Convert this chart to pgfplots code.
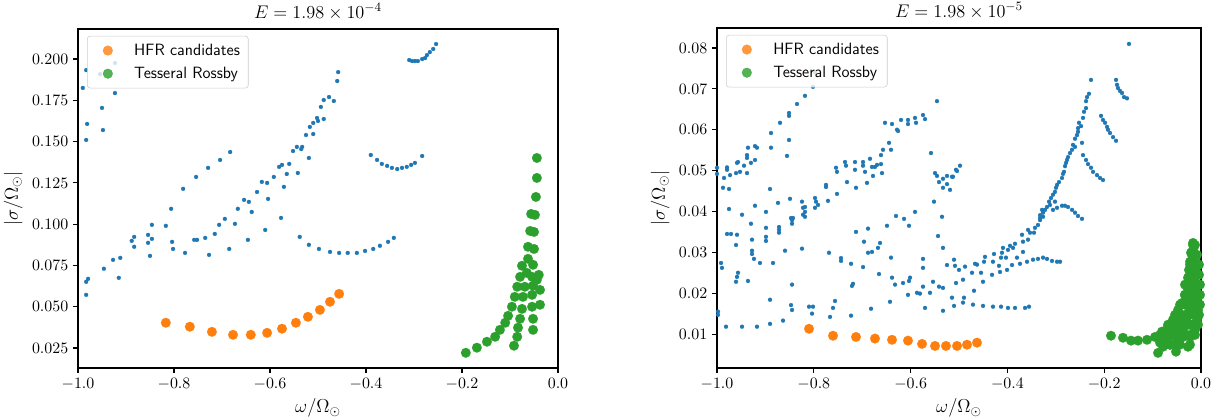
\RequirePackage{fix-cm}
\documentclass[border=0pt]{standalone}
\usepackage{pgfplots}
\pgfplotsset{compat=1.18}
\definecolor{mplblue}{HTML}{1F77B4}
\definecolor{mplorange}{HTML}{FF7F0E}
\definecolor{mplgreen}{HTML}{2CA02C}
\newcommand{\legfont}{\sffamily\fontsize{11.8}{14}\selectfont}
\pgfplotsset{
  panel/.style={
    scale only axis,
    xmin=-1, xmax=0,
    xtick={-1,-0.8,-0.6,-0.4,-0.2,0},
    xticklabel style={/pgf/number format/.cd,fixed,fixed zerofill,precision=1},
    scaled ticks=false,
    tick pos=left, tick align=outside,
    major tick length=3.5bp,
    every tick/.style={black,line width=0.8bp},
    axis line style={line width=0.8bp},
    tick label style={font=\fontsize{11.5}{13}\selectfont},
    label style={font=\fontsize{13.5}{16}\selectfont},
    xlabel={$\omega/\Omega_\odot$},
    ylabel={$|\sigma/\Omega_\odot|$},
    title style={font=\fontsize{13.2}{16}\selectfont, yshift=-3bp},
    legend style={at={(0,1)},anchor=north west,xshift=6.5bp,yshift=-5bp,
      draw=black!20,rounded corners=2bp,fill=white,fill opacity=0.8,text opacity=1,
      font=\legfont, nodes={font=\legfont, inner sep=2bp},
      inner xsep=4bp,inner ysep=3.5bp,row sep=3bp,column sep=0bp},
    legend cell align=left,
    legend image code/.code={\path (0bp,0bp) (27.4bp,0bp);\draw[#1] plot coordinates {(10.6bp,0bp)};},
  },
  blu/.style={only marks,mark=*,mark size=1.45bp,color=mplblue,mark options={line width=0.1pt}},
  ora/.style={only marks,mark=*,mark size=3.5bp,color=mplorange,mark options={line width=0.1pt}},
  gre/.style={only marks,mark=*,mark size=3.5bp,color=mplgreen,mark options={line width=0.1pt}},
}
\begin{document}
\begin{tikzpicture}
\path[use as bounding box] (0,0) rectangle (878.4bp,302.4bp);
% ---------------- left panel ----------------
\begin{axis}[panel, at={(56.16bp,37.44bp)}, anchor=south west,
  width=345.6bp, height=244.08bp,
  ymin=0.0129, ymax=0.2182,
  ytick={0.025,0.05,0.075,0.1,0.125,0.15,0.175,0.2},
  yticklabel style={/pgf/number format/.cd,fixed,fixed zerofill,precision=3},
  title={$E = 1.98\times 10^{-4}$}]
\addplot[blu, forget plot] table {
-0.983 0.1933
-0.923 0.1976
-0.954 0.1909
-0.990 0.1825
-0.923 0.1794
-0.950 0.1704
-0.981 0.1607
-0.948 0.1570
-0.983 0.1510
-0.683 0.1437
-0.704 0.1389
-0.729 0.1341
-0.754 0.1286
-0.781 0.1214
-0.806 0.1093
-0.694 0.1032
-0.458 0.1921
-0.460 0.1867
-0.477 0.1770
-0.488 0.1752
-0.467 0.1746
-0.494 0.1710
-0.488 0.1637
-0.502 0.1643
-0.500 0.1625
-0.510 0.1613
-0.517 0.1589
-0.510 0.1546
-0.525 0.1540
-0.533 0.1468
-0.544 0.1468
-0.535 0.1455
-0.552 0.1443
-0.519 0.1401
-0.560 0.1365
-0.575 0.1359
-0.581 0.1347
-0.565 0.1304
-0.542 0.1310
-0.592 0.1286
-0.571 0.1226
-0.617 0.1256
-0.606 0.1250
-0.627 0.1195
-0.654 0.1147
-0.644 0.1135
-0.604 0.1153
-0.667 0.1093
-0.638 0.1074
-0.577 0.1038
-0.846 0.0996
-0.817 0.0990
-0.854 0.0935
-0.883 0.0923
-0.888 0.0899
-0.854 0.0887
-0.846 0.0911
-0.883 0.0863
-0.804 0.0893
-0.802 0.0850
-0.850 0.0808
-0.777 0.0826
-0.758 0.0905
-0.752 0.0905
-0.735 0.0917
-0.727 0.0814
-0.715 0.0941
-0.706 0.0996
-0.685 0.0850
-0.673 0.1002
-0.646 0.0905
-0.610 0.0965
-0.927 0.0784
-0.912 0.0796
-0.946 0.0730
-0.915 0.0675
-0.979 0.0669
-0.983 0.0651
-0.983 0.0572
-0.538 0.0923
-0.519 0.0875
-0.498 0.0850
-0.475 0.0832
-0.456 0.0826
-0.438 0.0826
-0.419 0.0826
-0.402 0.0838
-0.385 0.0850
-0.371 0.0869
-0.354 0.0893
-0.342 0.0917
-0.390 0.1419
-0.377 0.1389
-0.367 0.1365
-0.356 0.1353
-0.346 0.1341
-0.335 0.1334
-0.325 0.1341
-0.315 0.1347
-0.306 0.1359
-0.298 0.1371
-0.283 0.1413
-0.310 0.1994
-0.304 0.1988
-0.298 0.1988
-0.292 0.1988
-0.283 0.2000
-0.277 0.2006
-0.273 0.2024
-0.267 0.2042
-0.260 0.2061
-0.254 0.2091
};
\addplot[ora] table {
-0.817 0.0403
-0.767 0.0379
-0.721 0.0348
-0.677 0.0330
-0.640 0.0330
-0.606 0.0342
-0.575 0.0367
-0.546 0.0403
-0.521 0.0439
-0.496 0.0481
-0.475 0.0530
-0.456 0.0578
};
\addlegendentry{HFR candidates}
\addplot[gre] table {
-0.044 0.1401
-0.044 0.1280
-0.046 0.1165
-0.056 0.1062
-0.048 0.1056
-0.058 0.0959
-0.050 0.0953
-0.0625 0.0863
-0.050 0.0850
-0.0625 0.0790
-0.075 0.0748
-0.052 0.0754
-0.065 0.0705
-0.079 0.0681
-0.054 0.0681
-0.040 0.0693
-0.044 0.0663
-0.085 0.0621
-0.069 0.0621
-0.052 0.0627
-0.0375 0.0602
-0.054 0.0572
-0.090 0.0560
-0.073 0.0560
-0.096 0.0500
-0.075 0.0487
-0.054 0.0500
-0.0375 0.0512
-0.104 0.0445
-0.079 0.0427
-0.052 0.0427
-0.110 0.0403
-0.0833 0.0373
-0.052 0.0360
-0.121 0.0360
-0.131 0.0318
-0.085 0.0318
-0.148 0.0288
-0.0917 0.0264
-0.169 0.0252
-0.192 0.0221
};
\addlegendentry{Tesseral Rossby}
\end{axis}
% ---------------- right panel ----------------
\begin{axis}[panel, at={(516.24bp,37.44bp)}, anchor=south west,
  width=348.48bp, height=244.8bp,
  ymin=0.0017, ymax=0.0849,
  ytick={0.01,0.02,0.03,0.04,0.05,0.06,0.07,0.08},
  yticklabel style={/pgf/number format/.cd,fixed,fixed zerofill,precision=2},
  title={$E = 1.98\times 10^{-5}$}]
\addplot[blu, forget plot] table {
-1.0000 0.0507
-1.0000 0.0492
-0.9855 0.0482
-0.9876 0.0458
-0.9793 0.0508
-0.9793 0.0502
-0.9731 0.0489
-0.9752 0.0455
-0.9607 0.0494
-0.9587 0.0519
-0.9566 0.0521
-0.9525 0.0497
-0.9442 0.0512
-0.9380 0.0494
-0.9380 0.0531
-0.9380 0.0538
-0.9360 0.0556
-0.9215 0.0526
-0.9215 0.0560
-0.9174 0.0556
-0.9298 0.0519
-0.8884 0.0592
-0.8884 0.0556
-0.8698 0.0617
-0.8512 0.0641
-0.8512 0.0634
-0.8347 0.0663
-0.8182 0.0683
-0.8017 0.0705
-0.7975 0.0741
-0.8512 0.0575
-0.8554 0.0536
-0.8905 0.0455
-0.9215 0.0414
-0.9483 0.0392
-0.9752 0.0406
-0.8988 0.0399
-0.8740 0.0421
-0.8492 0.0431
-0.8430 0.0384
-0.8244 0.0424
-0.8223 0.0409
-0.8182 0.0399
-0.8223 0.0392
-0.8182 0.0387
-0.7975 0.0433
-0.7955 0.0424
-0.7913 0.0416
-0.7975 0.0409
-0.7748 0.0465
-0.7748 0.0460
-0.7707 0.0426
-0.7521 0.0443
-0.7541 0.0507
-0.7521 0.0497
-0.7355 0.0521
-0.7335 0.0512
-0.7314 0.0472
-0.7149 0.0521
-0.7149 0.0502
-0.7128 0.0458
-0.6983 0.0521
-0.6983 0.0512
-0.6942 0.0497
-0.6901 0.0470
-0.6839 0.0529
-0.6798 0.0509
-0.6777 0.0487
-0.6736 0.0509
-0.6694 0.0514
-0.6612 0.0538
-0.6612 0.0516
-0.6591 0.0494
-0.6570 0.0551
-0.6529 0.0617
-0.6446 0.0568
-0.6405 0.0551
-0.6384 0.0614
-0.6281 0.0600
-0.6260 0.0597
-0.6198 0.0624
-0.6054 0.0624
-0.6054 0.0614
-0.5909 0.0629
-0.5888 0.0617
-0.5744 0.0636
-0.5702 0.0626
-0.5579 0.0543
-0.5496 0.0494
-0.5517 0.0424
-0.5455 0.0487
-0.5413 0.0472
-0.5331 0.0480
-0.5248 0.0487
-0.5186 0.0453
-0.5124 0.0485
-0.5062 0.0502
-0.4979 0.0512
-0.5455 0.0670
-0.5351 0.0387
-0.5041 0.0499
-0.5145 0.0485
-0.5248 0.0467
-0.5331 0.0458
-0.1488 0.0810
-0.2273 0.0722
-0.1756 0.0722
-0.1736 0.0710
-0.1715 0.0702
-0.1674 0.0695
-0.1632 0.0690
-0.1591 0.0680
-0.1529 0.0677
-0.2066 0.0634
-0.2025 0.0624
-0.1983 0.0617
-0.1942 0.0607
-0.1921 0.0600
-0.1880 0.0592
-0.1818 0.0582
-0.1756 0.0573
-0.2438 0.0538
-0.2376 0.0526
-0.2335 0.0516
-0.2273 0.0507
-0.2231 0.0497
-0.2149 0.0489
-0.2087 0.0482
-0.2025 0.0477
-0.2314 0.0688
-0.2355 0.0680
-0.2376 0.0670
-0.2376 0.0653
-0.2417 0.0644
-0.2438 0.0629
-0.2521 0.0617
-0.2479 0.0609
-0.2541 0.0604
-0.2541 0.0595
-0.2562 0.0587
-0.2603 0.0578
-0.2645 0.0563
-0.2603 0.0558
-0.2665 0.0551
-0.2707 0.0543
-0.2748 0.0533
-0.2769 0.0526
-0.2789 0.0519
-0.2810 0.0511
-0.2831 0.0497
-0.2851 0.0492
-0.2872 0.0482
-0.2934 0.0472
-0.2975 0.0465
-0.2996 0.0458
-0.3017 0.0448
-0.3058 0.0441
-0.3099 0.0433
-0.3140 0.0424
-0.3182 0.0411
-0.3223 0.0404
-0.3264 0.0397
-0.3326 0.0384
-0.2459 0.0568
-0.3017 0.0424
-0.2975 0.0409
-0.2872 0.0414
-0.2810 0.0414
-0.2748 0.0411
-0.2665 0.0404
-0.2603 0.0397
-0.2541 0.0389
-0.2459 0.0382
-0.9979 0.0155
-0.9979 0.0147
-0.9814 0.0118
-0.9483 0.0118
-0.9174 0.0118
-0.8905 0.0125
-0.8636 0.0133
-0.8099 0.0167
-0.8017 0.0167
-0.8037 0.0150
-0.7665 0.0142
-0.7603 0.0164
-0.7562 0.0181
-0.7231 0.0145
-0.7211 0.0218
-0.7190 0.0223
-0.6818 0.0162
-0.6426 0.0179
-0.8471 0.0171
-0.8450 0.0159
-0.8450 0.0221
-0.8905 0.0184
-0.9360 0.0230
-0.9587 0.0240
-0.9566 0.0250
-0.9607 0.0228
-0.9917 0.0274
-0.9897 0.0262
-0.9793 0.0345
-0.9711 0.0345
-0.9587 0.0343
-0.9607 0.0318
-0.9298 0.0370
-0.9277 0.0331
-0.9277 0.0304
-0.9277 0.0296
-0.9236 0.0284
-0.9112 0.0274
-0.8988 0.0360
-0.8988 0.0338
-0.8988 0.0328
-0.8843 0.0274
-0.8719 0.0362
-0.8719 0.0355
-0.8719 0.0348
-0.8595 0.0304
-0.8471 0.0384
-0.8450 0.0370
-0.8450 0.0379
-0.8244 0.0309
-0.8182 0.0411
-0.7686 0.0299
-0.7438 0.0286
-0.7438 0.0279
-0.7231 0.0272
-0.7128 0.0350
-0.6983 0.0264
-0.6963 0.0326
-0.6880 0.0358
-0.6880 0.0299
-0.6798 0.0301
-0.6674 0.0311
-0.6632 0.0323
-0.6653 0.0247
-0.6488 0.0365
-0.6405 0.0287
-0.6384 0.0238
-0.6322 0.0221
-0.6302 0.0389
-0.6157 0.0225
-0.6136 0.0382
-0.6054 0.0196
-0.6033 0.0230
-0.6012 0.0238
-0.6033 0.0365
-0.5909 0.0399
-0.5868 0.0201
-0.5806 0.0199
-0.5744 0.0284
-0.5744 0.0262
-0.5744 0.0216
-0.5702 0.0164
-0.5599 0.0201
-0.5537 0.0228
-0.5434 0.0340
-0.5413 0.0216
-0.5331 0.0213
-0.5331 0.0311
-0.5331 0.0157
-0.5248 0.0269
-0.5145 0.0189
-0.5103 0.0282
-0.5083 0.0267
-0.5103 0.0169
-0.5062 0.0225
-0.5000 0.0257
-0.4876 0.0265
-0.4917 0.0233
-0.4897 0.0189
-0.4917 0.0177
-0.4731 0.0250
-0.4669 0.0272
-0.4690 0.0206
-0.4711 0.0172
-0.4628 0.0270
-0.4545 0.0250
-0.4504 0.0228
-0.4504 0.0169
-0.4483 0.0277
-0.4463 0.0289
-0.4318 0.0245
-0.4298 0.0167
-0.4298 0.0277
-0.4277 0.0296
-0.4174 0.0267
-0.4153 0.0252
-0.4132 0.0287
-0.4112 0.0299
-0.4132 0.0167
-0.4091 0.0311
-0.4029 0.0287
-0.3988 0.0164
-0.4008 0.0257
-0.3988 0.0306
-0.3946 0.0316
-0.3905 0.0269
-0.3843 0.0164
-0.3884 0.0311
-0.3843 0.0321
-0.3802 0.0287
-0.3740 0.0272
-0.3678 0.0301
-0.3678 0.0326
-0.3698 0.0343
-0.3636 0.0164
-0.3595 0.0277
-0.3574 0.0331
-0.3533 0.0348
-0.3574 0.0355
-0.3554 0.0167
-0.3471 0.0282
-0.3368 0.0284
-0.3264 0.0287
-0.3182 0.0284
-0.3079 0.0279
-0.2975 0.0277
-0.2913 0.0277
-0.3450 0.0348
-0.3430 0.0360
-0.3368 0.0367
-0.3326 0.0379
-0.3326 0.0391
-0.3285 0.0404
-0.3264 0.0387
-0.3120 0.0416
-0.3058 0.0404
};
\addplot[ora] table {
-0.8099 0.0113
-0.7603 0.0096
-0.7128 0.0093
-0.6736 0.0089
-0.6384 0.0086
-0.6054 0.0084
-0.5764 0.0076
-0.5496 0.0071
-0.5269 0.0071
-0.5041 0.0071
-0.4835 0.0074
-0.4628 0.0079
};
\addlegendentry{HFR candidates}
\addplot[gre] table {
-0.1860 0.0096
-0.1612 0.0091
-0.1446 0.0084
-0.1302 0.0084
-0.1116 0.0086
-0.0950 0.0093
-0.0806 0.0106
-0.0682 0.0118
-0.0579 0.0135
-0.0475 0.0159
-0.0393 0.0176
-0.0331 0.0196
-0.0289 0.0216
-0.0269 0.0238
-0.0248 0.0257
-0.0227 0.0277
-0.0207 0.0299
-0.0165 0.0323
-0.0888 0.0054
-0.0785 0.0069
-0.0682 0.0086
-0.0517 0.0057
-0.0496 0.0079
-0.0269 0.0069
-0.0124 0.0110
-0.0083 0.0135
-0.0062 0.0159
-0.0062 0.0191
-0.0083 0.0216
-0.0083 0.0250
-0.0124 0.0282
-0.0165 0.0306
-0.0434 0.0135
-0.0372 0.0110
-0.0579 0.0103
-0.0289 0.0142
-0.0186 0.0176
-0.0165 0.0216
-0.0372 0.0093
-0.0227 0.0093
-0.0331 0.0123
-0.0227 0.0123
-0.0124 0.0147
-0.0227 0.0159
-0.0165 0.0196
-0.0269 0.0184
-0.0145 0.0233
-0.0103 0.0269
-0.0475 0.0086
-0.0640 0.0074
-0.0744 0.0098
-0.0847 0.0079
-0.0434 0.0110
-0.0537 0.0123
-0.0124 0.0318
-0.0165 0.0318
-0.0083 0.0294
-0.0186 0.0294
-0.0124 0.0294
-0.0041 0.0270
-0.0124 0.0270
-0.0227 0.0270
-0.0041 0.0245
-0.0124 0.0245
-0.0227 0.0245
-0.0021 0.0221
-0.0124 0.0221
-0.0227 0.0221
-0.0331 0.0221
-0.0021 0.0196
-0.0124 0.0196
-0.0227 0.0196
-0.0331 0.0196
-0.0021 0.0172
-0.0124 0.0172
-0.0227 0.0172
-0.0331 0.0172
-0.0434 0.0172
-0.0041 0.0147
-0.0124 0.0147
-0.0227 0.0147
-0.0331 0.0147
-0.0434 0.0147
-0.0537 0.0147
-0.0062 0.0123
-0.0165 0.0123
-0.0269 0.0123
-0.0372 0.0123
-0.0475 0.0123
-0.0578 0.0123
-0.0681 0.0123
-0.0124 0.0098
-0.0227 0.0098
-0.0331 0.0098
-0.0434 0.0098
-0.0537 0.0098
-0.0640 0.0098
-0.0744 0.0098
-0.0847 0.0098
-0.0227 0.0074
-0.0434 0.0074
-0.0537 0.0074
-0.0640 0.0074
-0.0744 0.0074
};
\addlegendentry{Tesseral Rossby}
\end{axis}
\end{tikzpicture}
\end{document}
